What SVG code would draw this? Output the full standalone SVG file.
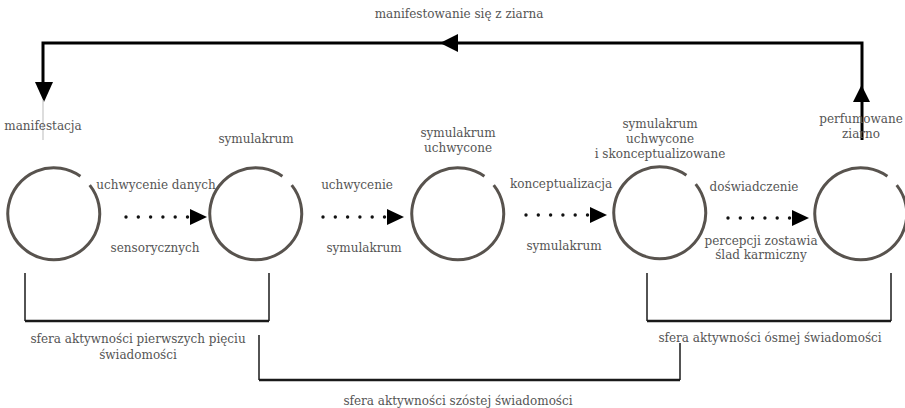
<svg xmlns="http://www.w3.org/2000/svg" width="905" height="408" viewBox="0 0 905 408">
<style>
  text { font-family: "DejaVu Serif", "Liberation Serif", serif; font-size: 12px; fill: #555; text-anchor: middle; }
  .ring { fill: none; stroke: #58534e; stroke-width: 3; }
  .dot { fill: #111; }
  .head { fill: #000; }
  .line { fill: none; stroke: #000; stroke-width: 3; }
  .br { fill: none; stroke: #1a1a1a; stroke-width: 1.5; }
  .brb { fill: none; stroke: #1a1a1a; stroke-width: 2.5; }
</style>
<defs>
  <path id="ring" class="ring" d="M35.7,-28.9 A46,46 0 1 1 26.4,-37.7"/>
  <g id="darrow">
    <circle class="dot" cx="0" cy="0" r="1.7"/>
    <circle class="dot" cx="12.3" cy="0" r="1.7"/>
    <circle class="dot" cx="24.6" cy="0" r="1.7"/>
    <circle class="dot" cx="36.9" cy="0" r="1.7"/>
    <circle class="dot" cx="49.2" cy="0" r="1.7"/>
    <circle class="dot" cx="61.5" cy="0" r="1.7"/>
    <polygon class="head" points="64,-8 81,0 64,8"/>
  </g>
</defs>
<text x="459" y="18">manifestowanie się z ziarna</text>
<g id="connectors">
  <polyline class="line" points="862,140 862,43 43,43 43,86"/>
  <polygon class="head" points="440,43 458,34 458,52"/>
  <polygon class="head" points="35,82 53,82 44,102"/>
  <polygon class="head" points="853,102 870,102 861.5,85"/>
  <line x1="43" y1="100" x2="43" y2="140" stroke="#bbb" stroke-width="1"/>
  <use href="#darrow" x="126" y="217"/>
  <use href="#darrow" x="323" y="217"/>
  <use href="#darrow" x="526" y="215"/>
  <use href="#darrow" x="728" y="218"/>
</g>
<g id="n1">
  <use href="#ring" x="54" y="214"/>
  <text x="43" y="130">manifestacja</text>
</g>
<g id="n2">
  <use href="#ring" x="256" y="214"/>
  <text x="256" y="143">symulakrum</text>
</g>
<g id="n3">
  <use href="#ring" x="458" y="214"/>
  <text x="458" y="137">symulakrum</text>
  <text x="458" y="152">uchwycone</text>
</g>
<g id="n4">
  <use href="#ring" x="660" y="213"/>
  <text x="660" y="128">symulakrum</text>
  <text x="660" y="143">uchwycone</text>
  <text x="660" y="158">i skonceptualizowane</text>
</g>
<g id="n5">
  <use href="#ring" x="861" y="214"/>
  <text x="861" y="123">perfumowane</text>
  <text x="861" y="138">ziarno</text>
</g>
<g id="labels">
  <text x="156" y="189">uchwycenie danych</text>
  <text x="155" y="252">sensorycznych</text>
  <text x="357" y="189">uchwycenie</text>
  <text x="364" y="252">symulakrum</text>
  <text x="561" y="188">konceptualizacja</text>
  <text x="564" y="250">symulakrum</text>
  <text x="754" y="191">doświadczenie</text>
  <text x="761" y="245">percepcji zostawia</text>
  <text x="761" y="259">ślad karmiczny</text>
</g>
<g id="sphere1">
  <polyline class="br" points="25,273 25,321"/>
  <polyline class="br" points="269,273 269,321"/>
  <line class="brb" x1="25" y1="321" x2="269" y2="321"/>
  <text x="138" y="343">sfera aktywności pierwszych pięciu</text>
  <text x="138" y="359">świadomości</text>
</g>
<g id="sphere2">
  <polyline class="br" points="259,335 259,380"/>
  <polyline class="br" points="680,343 680,380"/>
  <line class="brb" x1="259" y1="380" x2="680" y2="380"/>
  <text x="458" y="405">sfera aktywności szóstej świadomości</text>
</g>
<g id="sphere3">
  <polyline class="br" points="647,273 647,321"/>
  <polyline class="br" points="891,273 891,321"/>
  <line class="brb" x1="647" y1="321" x2="891" y2="321"/>
  <text x="770" y="342">sfera aktywności ósmej świadomości</text>
</g>
</svg>
